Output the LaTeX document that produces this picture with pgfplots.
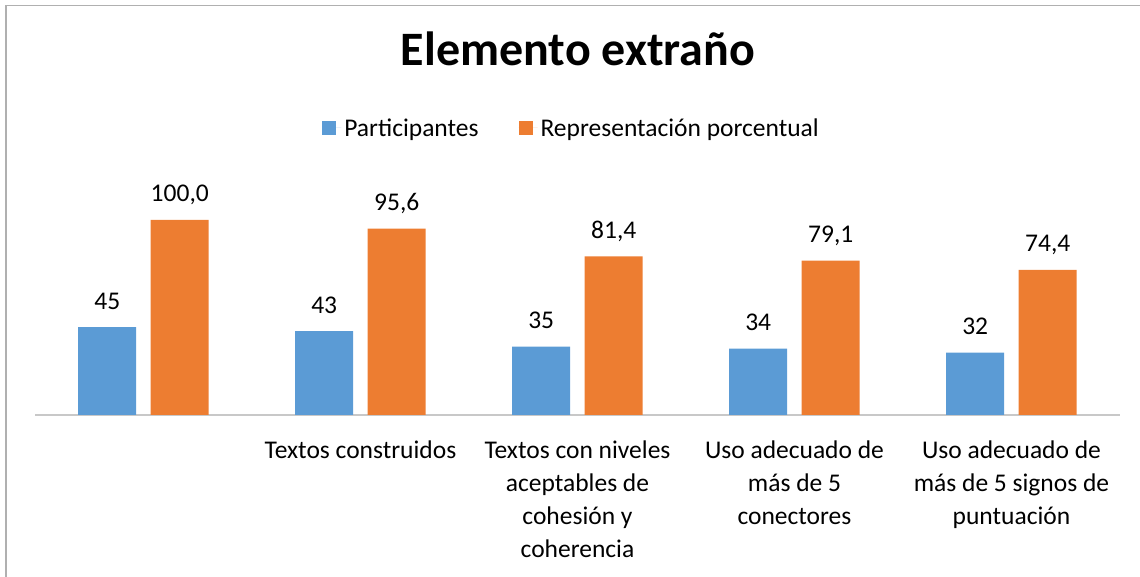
\documentclass[border=0pt]{standalone}
\usepackage{pgfplots}
\pgfplotsset{compat=1.18}
\usepackage{fontspec}
\setmainfont{Carlito}
\definecolor{cblue}{HTML}{5B9BD5}
\definecolor{corange}{HTML}{ED7D31}
\definecolor{framegray}{HTML}{B0B0B0}
\definecolor{axisgray}{HTML}{C8C8C8}
\newcommand{\bodyfont}{\fontsize{25.5bp}{33bp}\selectfont}
\begin{document}
\begin{tikzpicture}[x=1bp,y=1bp]
\useasboundingbox (0,0) rectangle (1140,577);
\draw[framegray, line width=1.2bp] (6,-10) -- (6,571.6) -- (1150,571.6);
\node[anchor=base, font=\bfseries\fontsize{48bp}{52bp}\selectfont] at (578,511) {Elemento extraño};
\begin{axis}[
  at={(35bp,162bp)}, anchor=south west,
  scale only axis, width=1085bp, height=195bp,
  xmin=-0.5, xmax=4.5, ymin=0, ymax=100,
  ybar=14.5bp, bar width=58bp,
  axis y line=none,
  axis x line*=bottom,
  x axis line style={axisgray, line width=1.2bp},
  xtick={0,1,2,3,4},
  xticklabels={{},{Textos construidos},{Textos con niveles\\aceptables de\\cohesión y\\coherencia},{Uso adecuado de\\más de 5\\conectores},{Uso adecuado de\\más de 5 signos de\\puntuación}},
  major tick length=0pt,
  xticklabel style={align=center, font=\bodyfont, anchor=north, inner sep=0pt, yshift=-26bp},
  clip=false,
  /pgf/number format/assume math mode=true,
  legend image code/.code={\draw[#1, draw=none] (0bp,-7bp) rectangle (14bp,7bp); \path (0bp,0bp) -- (19bp,0bp);},
  legend columns=2,
  legend style={at={(0.495,1.472)}, anchor=center, draw=none, fill=none, font=\bodyfont,
    /tikz/every even column/.append style={column sep=37bp},
    nodes={inner sep=3bp}},
  every node near coord/.append style={font=\bodyfont, anchor=base, inner sep=0pt, yshift=18bp},
  nodes near coords,
]
\addplot[fill=cblue, draw=none] coordinates {(0,45) (1,43) (2,35) (3,34) (4,32)};
\addplot[fill=corange, draw=none, nodes near coords={\pgfmathprintnumber[fixed,fixed zerofill,precision=1,use comma,assume math mode=true]{\pgfplotspointmeta}}] coordinates {(0,100.0) (1,95.6) (2,81.4) (3,79.1) (4,74.4)};
\legend{Participantes, Representación porcentual}
\end{axis}
\end{tikzpicture}
\end{document}
